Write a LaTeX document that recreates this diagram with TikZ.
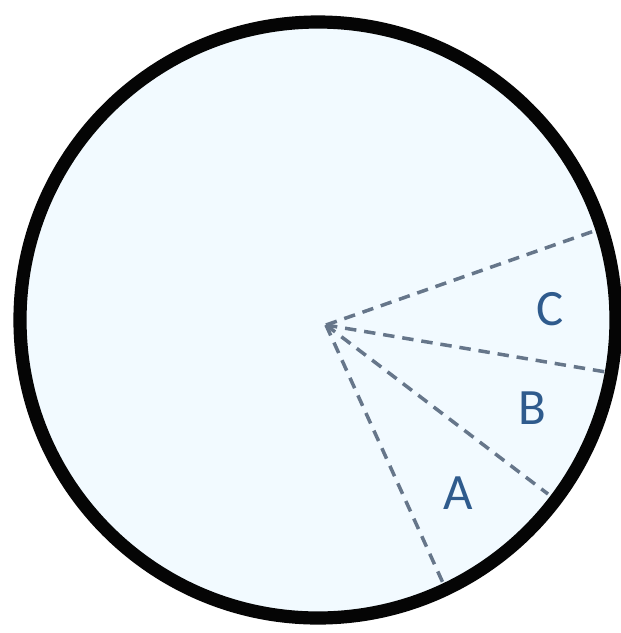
\documentclass[tikz,border=0pt]{standalone}
\usepackage{fontspec}
\setmainfont{Carlito}
\definecolor{rimblack}{HTML}{050505}
\definecolor{discfill}{HTML}{F2FAFF}
\definecolor{raygray}{HTML}{66768A}
\definecolor{tagblue}{HTML}{2F5B8D}
\begin{document}
\begin{tikzpicture}[
                x=0.02cm, y=-0.02cm,
                rim/.style={draw=rimblack, line width=7.5pt, fill=discfill},
                ray/.style={draw=raygray, line width=2pt, dash pattern=on 6.5pt off 4.5pt},
                tag/.style={text=tagblue, font=\fontsize{29}{34}\selectfont, inner sep=0pt}
            ]
            \useasboundingbox (0,0) rectangle (621,633);

            % disc
            \draw[rim] (318,320) circle [radius=298];

            % apex and rim points
            \coordinate (apex) at (326,325);
            \coordinate (rimC) at (597,230);
            \coordinate (rimB) at (606,372);
            \coordinate (rimA) at (548,494);
            \coordinate (rimO) at (443,583);

            \draw[ray] (apex) -- (rimC);
            \draw[ray] (apex) -- (rimB);
            \draw[ray] (apex) -- (rimA);
            \draw[ray] (apex) -- (rimO);

            % sector labels
            \node[tag] (labC) at (550,309) {C};
            \node[tag] (labB) at (532,408) {B};
            \node[tag] (labA) at (458,493) {A};

        \end{tikzpicture}
\end{document}
